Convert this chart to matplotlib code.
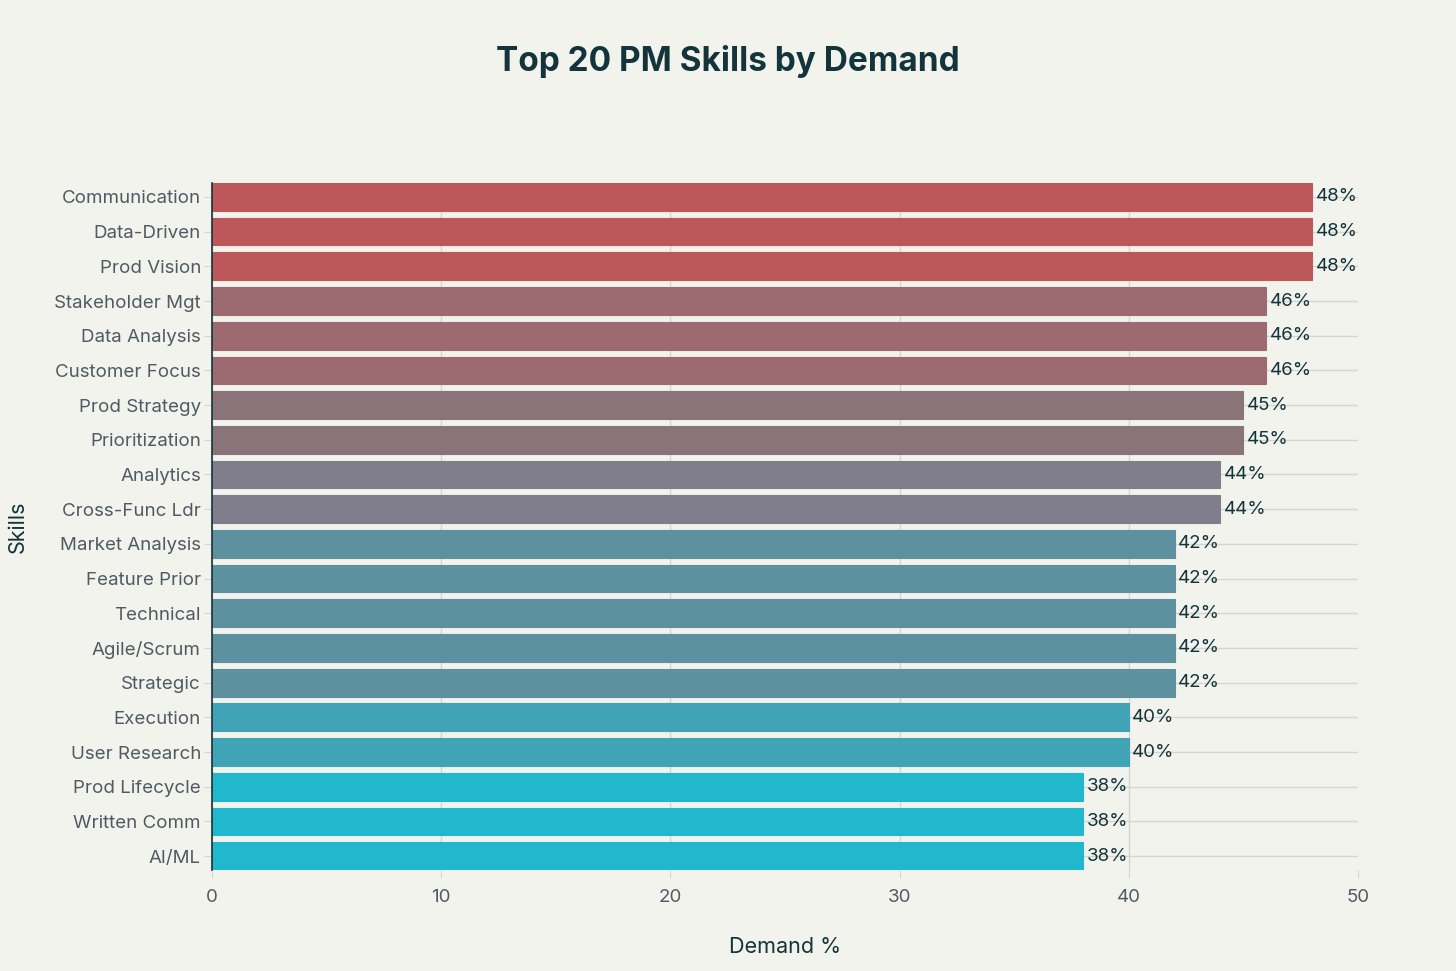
import matplotlib.pyplot as plt

# data
skills = ['Communication', 'Data-Driven', 'Prod Vision', 'Stakeholder Mgt', 'Data Analysis',
          'Customer Focus', 'Prod Strategy', 'Prioritization', 'Analytics', 'Cross-Func Ldr',
          'Market Analysis', 'Feature Prior', 'Technical', 'Agile/Scrum', 'Strategic',
          'Execution', 'User Research', 'Prod Lifecycle', 'Written Comm', 'AI/ML']
demand = [48, 48, 48, 46, 46, 46, 45, 45, 44, 44, 42, 42, 42, 42, 42, 40, 40, 38, 38, 38]
x_ticks = [0, 10, 20, 30, 40, 50]

# colour per demand level
level_colors = {48: '#BC575A', 46: '#9C6A70', 45: '#8B737A', 44: '#7F7E8A',
                42: '#5E91A0', 40: '#41A3B6', 38: '#21B8CD'}

bg = '#F3F3EE'
plt.rcParams['font.family'] = ['Inter', 'DejaVu Sans']

fig = plt.figure(figsize=(14.56, 9.71), dpi=100, facecolor=bg)
ax = fig.add_axes([0.1456, 0.104, 0.7871, 0.7075], facecolor=bg)

pos = list(range(len(skills)))
cols = [level_colors[v] for v in demand]
ax.barh(pos, demand, height=0.8, color=cols, edgecolor=cols, linewidth=0.8, zorder=3)

for p, v in zip(pos, demand):
    ax.text(v + 0.15, p, f'{v}%', va='center', ha='left', fontsize=13.5, color='#13343B', zorder=4)

ax.set_ylim(19.4, -0.4)
ax.set_xlim(0, 50)
ax.set_yticks(pos)
ax.set_yticklabels(skills)
ax.set_xticks(x_ticks)

ax.grid(True, color='#D6D6D1', linewidth=1, zorder=0)
ax.get_xgridlines()[-1].set_visible(False)
for s in ['top', 'right', 'bottom']:
    ax.spines[s].set_visible(False)
ax.spines['left'].set_color('#13343B')
ax.spines['left'].set_linewidth(1.2)
ax.spines['left'].set_zorder(5)

ax.tick_params(axis='y', length=6, color='#D6D6D1', labelsize=13.5, labelcolor='#4F5B63', pad=2)
ax.tick_params(axis='x', length=6, color='#D6D6D1', labelsize=13.5, labelcolor='#4F5B63', pad=8)

ax.set_xlabel('Demand %', fontsize=15.5, color='#13343B', labelpad=22)
ax.set_ylabel('Skills', fontsize=15.5, color='#13343B')
ax.yaxis.set_label_coords(-0.1606, 0.5)

fig.text(0.5, 0.937, 'Top 20 PM Skills by Demand', ha='center', va='center',
         fontsize=24, fontweight='bold', color='#13343B')

fig.savefig('out.png', dpi=100, facecolor=bg)
